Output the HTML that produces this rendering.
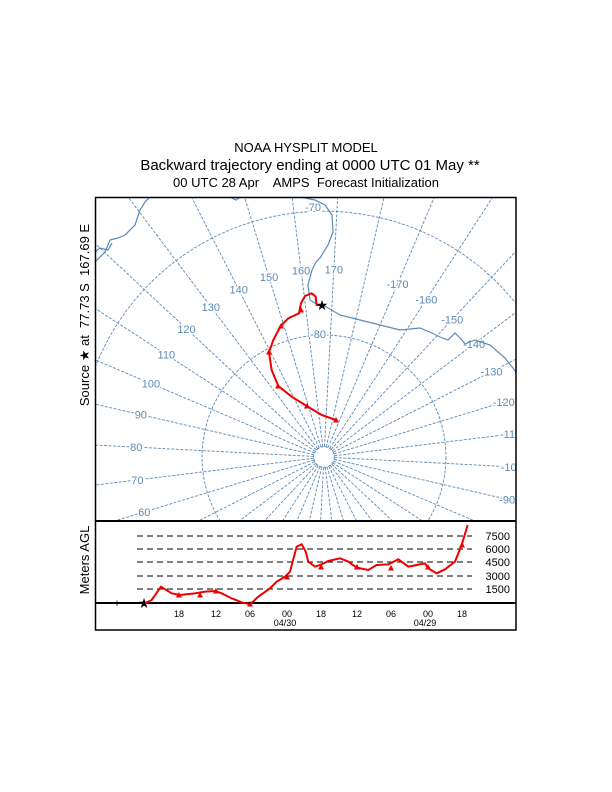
<!DOCTYPE html>
<html><head><meta charset="utf-8"><style>
html,body{margin:0;background:#fff;overflow:hidden;width:612px;height:792px}
svg{display:block;font-family:"Liberation Sans",sans-serif}
</style></head><body>
<svg id="s" width="612" height="792" viewBox="0 0 612 792" xmlns="http://www.w3.org/2000/svg">
<defs><clipPath id="mc"><rect x="95" y="197" width="421" height="324"/></clipPath></defs>
<text x="306" y="152" font-size="13" text-anchor="middle">NOAA HYSPLIT MODEL</text>
<text x="310" y="170" font-size="15" text-anchor="middle">Backward trajectory ending at 0000 UTC 01 May **</text>
<text x="306" y="187" font-size="13" text-anchor="middle" xml:space="preserve">00 UTC 28 Apr    AMPS  Forecast Initialization</text>
<text transform="translate(89,315) rotate(-90)" font-size="13" text-anchor="middle" xml:space="preserve">Source ★ at  77.73 S  167.69 E</text>
<text transform="translate(89,560) rotate(-90)" font-size="13" text-anchor="middle">Meters AGL</text>
<g id="grid" clip-path="url(#mc)" stroke="#5b8ab8" fill="none" stroke-width="0.9" stroke-dasharray="3,1.5"></g>
<g id="lab" fill="#5b8ab8" font-size="11" text-anchor="middle" clip-path="url(#mc)"></g>
<g clip-path="url(#mc)" stroke="#5b8ab8" fill="none" stroke-width="1.2">
<polyline points="323,305 340,315 360,320 380,325 400,330 420,328 432,333 440,337 448,340 455,333 462,340 465,344 475,340 490,345 505,358 516,372"/>
<polyline points="318,305 310,300 308,285 312,270 316,262 320,258 328,245 333,232 332,215 325,205 315,200 300,197 290,195"/>
<polyline points="95,262 105,252 110,240 118,238 125,235 135,225 140,210 145,202 150,197"/>
<polyline points="95,252 100,248 108,250 112,243"/>
<polyline points="230,197 236,200 240,197"/>
</g>
<g transform="translate(95,190) scale(0.33333)" fill="#e00" stroke="#e00">
<polyline fill="none" stroke-width="6" points="723,690 680,675 635,648 590,620 550,588 530,540 522,487 535,450 557,408 580,385 612,370 618,340 630,318 650,310 662,320 665,345 685,345"/>
</g>
<g id="tri" fill="#e00"></g>
<text x="322" y="310" font-size="14" text-anchor="middle">★</text>
<rect x="95.5" y="197.5" width="420.5" height="432.5" fill="none" stroke="#000" stroke-width="1.5"/>
<line x1="95" y1="521" x2="516" y2="521" stroke="#000" stroke-width="2"/>
<g stroke="#000" stroke-dasharray="6,4" stroke-width="0.9">
<line x1="137" y1="536" x2="472" y2="536"/><line x1="137" y1="549" x2="472" y2="549"/>
<line x1="137" y1="562" x2="472" y2="562"/><line x1="137" y1="576" x2="472" y2="576"/>
<line x1="137" y1="589" x2="472" y2="589"/>
</g>
<line x1="95" y1="603" x2="516" y2="603" stroke="#000" stroke-width="2"/>
<g font-size="11" text-anchor="end">
<text x="510" y="540">7500</text><text x="510" y="553">6000</text><text x="510" y="566">4500</text><text x="510" y="580">3000</text><text x="510" y="593">1500</text>
</g>
<g font-size="9" text-anchor="middle">
<text x="179" y="617">18</text><text x="216" y="617">12</text><text x="250" y="617">06</text><text x="287" y="617">00</text><text x="321" y="617">18</text><text x="357" y="617">12</text><text x="391" y="617">06</text><text x="428" y="617">00</text><text x="462" y="617">18</text>
<text x="285" y="626">04/30</text><text x="425" y="626">04/29</text>
</g>
<text x="117" y="607" font-size="11" text-anchor="middle">+</text>
<text x="144" y="608" font-size="14" text-anchor="middle">★</text>
<g transform="translate(95,515) scale(0.33333)">
<polyline fill="none" stroke="#e00" stroke-width="6" points="150,265 170,255 198,215 230,235 255,240 300,235 330,230 360,228 380,235 410,250 440,262 465,268 490,245 525,220 545,200 570,185 585,170 605,95 620,88 632,110 640,140 660,155 680,148 700,138 735,130 760,140 785,158 820,165 845,150 880,148 910,133 940,155 990,145 1000,160 1025,175 1050,163 1080,140 1100,90 1118,30"/>
</g>
<script>
var NS="http://www.w3.org/2000/svg",cx=324,cy=457,k=1394;
function R(lat){return k*Math.tan((90-lat)/2*Math.PI/180);}
function P(lon,r){var t=(lon-180+13)*Math.PI/180;return [cx+r*Math.sin(t),cy-r*Math.cos(t)];}
var g=document.getElementById('grid');
function el(p,tag,a){var e=document.createElementNS(NS,tag);for(var n in a)e.setAttribute(n,a[n]);p.appendChild(e);return e;}
[60,70,80,89.15].forEach(function(l){el(g,'circle',{cx:cx,cy:cy,r:R(l)});});
for(var L=0;L<360;L+=10){var a=P(L,R(89.15)),b=P(L,480);el(g,'line',{x1:a[0],y1:a[1],x2:b[0],y2:b[1]});}
var lab=document.getElementById('lab');
for(var L=0;L<360;L+=10){if(L==180)continue;var p=P(L,188);var s=L>180?String(L-360):String(L);
 var t=el(lab,'text',{x:p[0],y:p[1]+4,stroke:'#fff','stroke-width':3,'paint-order':'stroke'});t.textContent=s;}
var t1=el(lab,'text',{x:318,y:338,stroke:'#fff','stroke-width':3,'paint-order':'stroke'});t1.textContent='-80';
var t2=el(lab,'text',{x:313,y:211,stroke:'#fff','stroke-width':3,'paint-order':'stroke'});t2.textContent='-70';
var tr=document.getElementById('tri');
function tri(x,y){el(tr,'polygon',{points:(x-3)+','+(y+2.5)+' '+(x+3)+','+(y+2.5)+' '+x+','+(y-3)});}
[[336,420],[307,406],[278,386],[269,352],[281,326],[301,310]].forEach(function(p){tri(p[0],p[1]);});
[[179,595],[216,591],[250,604],[287,577],[321,567],[357,567],[391,568],[428,567],[462,545],[200,595]].forEach(function(p){tri(p[0],p[1]);});
</script>
</svg>
</body></html>
